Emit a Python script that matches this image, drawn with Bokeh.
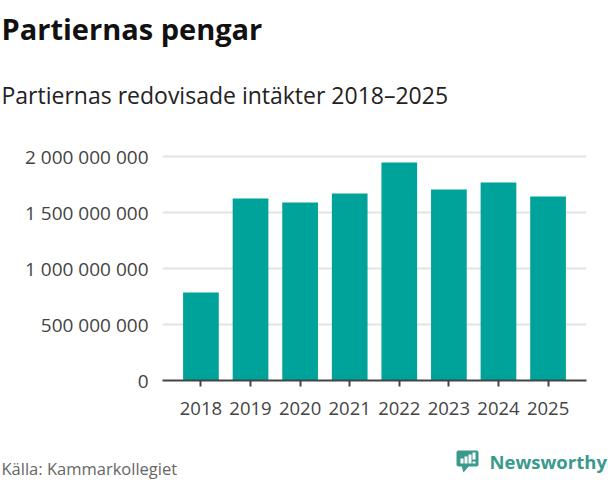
from bokeh.plotting import figure
from bokeh.models import (FactorRange, Range1d, FixedTicker, CustomJSTickFormatter,
                          ColumnDataSource)
from bokeh.core.properties import value
from bokeh.embed import file_html
from bokeh.resources import INLINE

# ---- data ----
years = ["2018", "2019", "2020", "2021", "2022", "2023", "2024", "2025"]
income = [785_000_000, 1_625_000_000, 1_590_000_000, 1_670_000_000,
          1_946_000_000, 1_705_000_000, 1_768_000_000, 1_643_000_000]
y_ticks = [0, 500_000_000, 1_000_000_000, 1_500_000_000, 2_000_000_000]

title_text = "Partiernas pengar"
subtitle_text = "Partiernas redovisade intäkter 2018–2025"
source_text = "Källa: Kammarkollegiet"
brand_text = "Newsworthy"

W, H = 608, 480
HEAD_H, FOOT_H = 130, 40
MAIN_H = H - HEAD_H - FOOT_H
FL, FR, FT, FB = 162, 586, 154, 380   # frame edges in page px
FONT = "Open Sans"
BAR = "#00A39A"
BRAND = "#3A9A8C"


def blank(height, y0):
    f = figure(width=W, height=height, output_backend="svg", toolbar_location=None,
               x_range=Range1d(0, W), y_range=Range1d(y0 + height, y0),
               min_border=0)
    f.axis.visible = False
    f.grid.visible = False
    f.outline_line_color = None
    f.background_fill_color = "white"
    f.border_fill_color = "white"
    return f


# ---- header ----
head = blank(HEAD_H, 0)
head.text(x=[1], y=[28], text=[title_text], text_font=value(FONT), text_font_size="29px",
          text_font_style="bold", text_color="#111111", text_baseline="alphabetic")
head.text(x=[1], y=[94], text=[subtitle_text], text_font=value(FONT), text_font_size="23px",
          text_color="#222222", text_baseline="alphabetic")

# ---- main chart ----
p = figure(width=W, height=MAIN_H, output_backend="svg", toolbar_location=None,
           x_range=FactorRange(*years, range_padding=0.275, range_padding_units="absolute"),
           y_range=Range1d(0, 2.018e9),
           min_border_left=FL, min_border_right=W - FR,
           min_border_top=FT - HEAD_H, min_border_bottom=HEAD_H + MAIN_H - FB)
p.outline_line_color = None
p.background_fill_color = "white"
p.border_fill_color = "white"

src = ColumnDataSource(dict(year=years, income=income))
p.vbar(x="year", top="income", width=0.72, source=src, color=BAR, line_color=None)

p.yaxis.ticker = FixedTicker(ticks=y_ticks)
p.yaxis.formatter = CustomJSTickFormatter(code="""
return Math.round(tick).toString().replace(/\\B(?=(\\d{3})+(?!\\d))/g, "\u00a0");
""")
p.yaxis.axis_line_color = None
p.yaxis.major_tick_line_color = None
p.yaxis.minor_tick_line_color = None
p.yaxis.major_label_standoff = 8
p.yaxis.major_label_text_font = FONT
p.yaxis.major_label_text_font_size = "19px"
p.yaxis.major_label_text_color = "#444444"

p.xaxis.axis_line_color = "#444444"
p.xaxis.axis_line_width = 2
p.xaxis.major_tick_line_color = "#444444"
p.xaxis.major_tick_line_width = 2
p.xaxis.major_tick_in = 0
p.xaxis.major_tick_out = 6
p.xaxis.major_label_standoff = 15
p.xaxis.major_label_text_font = FONT
p.xaxis.major_label_text_font_size = "18.5px"
p.xaxis.major_label_text_color = "#444444"

p.xgrid.grid_line_color = None
p.ygrid.grid_line_color = "#E3E3E3"
p.ygrid.grid_line_width = 2

# ---- footer ----
foot = blank(FOOT_H, H - FOOT_H)
foot.text(x=[1], y=[468], text=[source_text], text_font=value(FONT), text_font_size="16.5px",
          text_color="#666666", text_baseline="alphabetic")
foot.text(x=[489], y=[461], text=[brand_text], text_font=value(FONT), text_font_size="18.5px",
          text_font_style="bold", text_color=BRAND, text_baseline="alphabetic")
# logo icon (speech bubble with a small bar chart)
foot.quad(left=[456], right=[478], top=[450], bottom=[466], color=BRAND, line_color=None,
          border_radius=2)
foot.patch(x=[461, 469, 463], y=[465, 465, 472], color=BRAND, line_color=None)
foot.quad(left=[460, 464, 468, 472, 472], right=[463, 467, 471, 475, 475],
          top=[458, 456, 454, 452, 461], bottom=[463, 463, 463, 459, 463],
          color="white", line_color=None)

open("out.html", "w").write(file_html([head, p, foot], INLINE))
